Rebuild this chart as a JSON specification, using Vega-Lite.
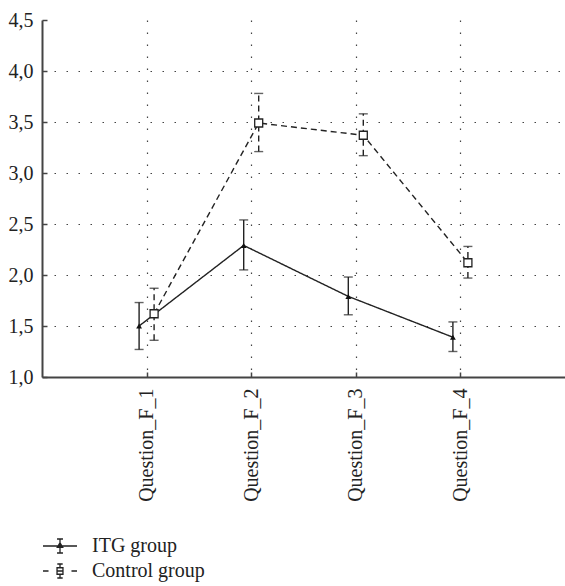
{
  "$schema": "https://vega.github.io/schema/vega-lite/v6.json",
  "width": 523,
  "height": 357,
  "autosize": {"type": "none"},
  "padding": {"left": 42, "top": 20, "right": 0, "bottom": 209},
  "background": "white",
  "config": {
    "font": "Liberation Serif",
    "view": {"stroke": null},
    "axis": {"labelFont": "Liberation Serif", "labelColor": "#222", "labelFontSize": 20}
  },
  "data": {
    "values": [
      {"q": "Question_F_1", "group": "ITG group", "mean": 1.50, "lo": 1.27, "hi": 1.73},
      {"q": "Question_F_2", "group": "ITG group", "mean": 2.29, "lo": 2.05, "hi": 2.54},
      {"q": "Question_F_3", "group": "ITG group", "mean": 1.79, "lo": 1.61, "hi": 1.98},
      {"q": "Question_F_4", "group": "ITG group", "mean": 1.39, "lo": 1.25, "hi": 1.54},
      {"q": "Question_F_1", "group": "Control group", "mean": 1.62, "lo": 1.36, "hi": 1.87},
      {"q": "Question_F_2", "group": "Control group", "mean": 3.49, "lo": 3.21, "hi": 3.78},
      {"q": "Question_F_3", "group": "Control group", "mean": 3.37, "lo": 3.17, "hi": 3.58},
      {"q": "Question_F_4", "group": "Control group", "mean": 2.12, "lo": 1.97, "hi": 2.28}
    ]
  },
  "encoding": {
    "x": {
      "field": "q", "type": "nominal",
      "scale": {"type": "point", "padding": 1},
      "axis": {
        "title": null, "labelAngle": 270, "labelAlign": "right", "labelBaseline": "middle",
        "labelFont": "Liberation Serif", "labelFontSize": 20,
        "labelPadding": 16, "domainColor": "#444", "domainWidth": 2,
        "tickColor": "#444", "tickSize": -5, "tickWidth": 1.5,
        "grid": true, "gridDash": [1.5, 10.5], "gridColor": "#444", "gridWidth": 1.2
      }
    },
    "xOffset": {
      "field": "group", "type": "nominal",
      "scale": {"type": "point", "domain": ["ITG group", "Control group"], "range": [-7.5, 7.5], "padding": 0}
    }
  },
  "layer": [
    {
      "mark": {"type": "rule", "color": "#444", "strokeWidth": 0},
      "encoding": {
        "y": {
          "field": "mean", "type": "quantitative",
          "scale": {"domain": [1, 4.5], "nice": false, "zero": false},
          "axis": {
            "title": null, "values": [1, 1.5, 2, 2.5, 3, 3.5, 4, 4.5],
            "labelExpr": "replace(format(datum.value, '.1f'), '.', ',')",
            "labelFont": "Liberation Serif", "labelFontSize": 20,
            "labelPadding": 14, "domainColor": "#444", "domainWidth": 2,
            "tickColor": "#444", "tickSize": -5, "tickWidth": 1.5,
            "grid": true, "gridDash": [1.5, 10.5], "gridColor": "#444", "gridWidth": 1.2,
            "gridOpacity": {"condition": {"test": "datum.value > 4.4 || datum.value < 1.1", "value": 0}, "value": 1}
          }
        }
      }
    },
    {
      "mark": {"type": "line", "color": "#222", "strokeWidth": 1.4},
      "encoding": {
        "y": {"field": "mean", "type": "quantitative"},
        "detail": {"field": "group", "type": "nominal"},
        "strokeDash": {"condition": {"test": "datum.group === 'Control group'", "value": [6, 4]}, "value": [1, 0]}
      }
    },
    {
      "mark": {"type": "rule", "color": "#222", "strokeWidth": 1.4},
      "encoding": {
        "y": {"field": "lo", "type": "quantitative"},
        "y2": {"field": "hi"},
        "strokeDash": {"condition": {"test": "datum.group === 'Control group'", "value": [6, 4]}, "value": [1, 0]}
      }
    },
    {
      "mark": {"type": "tick", "color": "#222", "thickness": 1.4, "size": 9},
      "encoding": {"y": {"field": "hi", "type": "quantitative"}}
    },
    {
      "mark": {"type": "tick", "color": "#222", "thickness": 1.4, "size": 9},
      "encoding": {"y": {"field": "lo", "type": "quantitative"}}
    },
    {
      "transform": [{"filter": "datum.group === 'ITG group'"}],
      "mark": {"type": "point", "shape": "triangle-up", "filled": true, "color": "#111", "size": 34, "opacity": 1},
      "encoding": {"y": {"field": "mean", "type": "quantitative"}}
    },
    {
      "transform": [{"filter": "datum.group === 'Control group'"}],
      "mark": {"type": "square", "filled": true, "color": "white", "stroke": "#222", "strokeWidth": 1.3, "size": 64, "opacity": 1},
      "encoding": {"y": {"field": "mean", "type": "quantitative"}}
    },
    {
      "mark": {"type": "point", "opacity": 0, "filled": false},
      "encoding": {
        "y": {"field": "mean", "type": "quantitative"},
        "shape": {
          "field": "group", "type": "nominal",
          "scale": {
            "domain": ["ITG group", "Control group"],
            "range": [
              "M-1.26,0H1.26M0,-0.52V0.52M-0.22,-0.52H0.22M-0.22,0.52H0.22M-0.2,0.1L0,-0.24L0.2,0.1Z",
              "M-1.26,0H-0.85M0.85,0H1.26M0,-0.52V-0.24M0,0.24V0.52M-0.2,-0.52H0.2M-0.2,0.52H0.2M-0.22,-0.24H0.22V0.24H-0.22ZM-0.22,0H0.22"
            ]
          },
          "legend": {
            "title": null, "orient": "none", "legendX": 3.5, "legendY": 511.5,
            "symbolSize": 729, "symbolOpacity": 1, "symbolStrokeColor": "#222",
            "symbolStrokeWidth": 1.3,
            "labelFont": "Liberation Serif", "labelFontSize": 20, "labelColor": "#222",
            "labelOffset": 17.5, "rowPadding": 0,
            "padding": 0,
            "encode": {
              "symbols": {
                "update": {
                  "fill": [{"test": "datum.value === 'ITG group'", "value": "#222"}, {"value": "white"}]
                }
              }
            }
          }
        }
      }
    }
  ]
}
